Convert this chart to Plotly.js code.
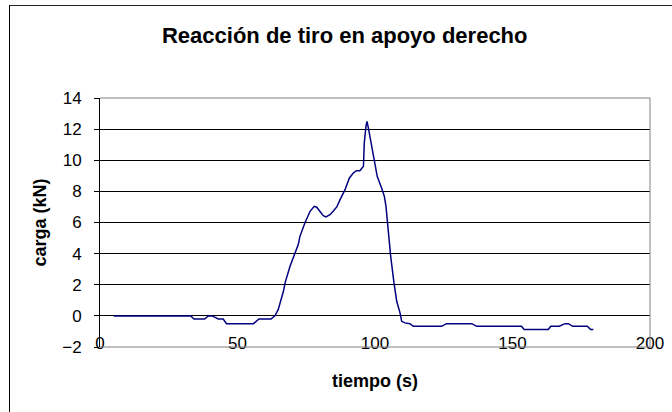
<!DOCTYPE html>
<html>
<head>
<meta charset="utf-8">
<script src="https://cdn.plot.ly/plotly-3.0.1.min.js"></script>
<style>
  body { margin: 0; background: #fff; }
  #chart { width: 672px; height: 412px; }
  /* outer chart frame (left and top edges visible in the crop) */
  #frame {
    position: absolute; left: 9px; top: 5px; width: 700px; height: 450px;
    border-left: 1px solid #000; border-top: 1.5px solid #222;
    pointer-events: none;
  }
</style>
</head>
<body>
<div id="chart"></div>
<div id="frame"></div>
<script>
// tiempo (s) and carga (kN)
const tiempo = [5, 33, 34.2, 38, 39.4, 40.8, 43, 44.8, 46, 55.8,
  57.8, 62.2, 63.6, 64.8, 66.7, 67.3, 69.1, 70.9, 72.1, 72.7,
  74.5, 76.4, 77.9, 78.8, 81.2, 82.2, 83.6, 84.8, 86.1, 87.3,
  89.1, 90.7, 92.1, 93.3, 94.5, 95.8, 96.1, 96.7, 97.1, 97.7,
  98.8, 100.4, 100.8, 102.4, 103.4, 104, 104.5, 105.7, 106.9, 107.9,
  109.1, 109.7, 110.9, 112.7, 113.9, 124.2, 126, 135.2, 137, 153.3,
  154.2, 163, 163.9, 167, 169.1, 170.3, 171.9, 177.2, 178.4, 179.4];

const carga = [0, 0, -0.2, -0.2, 0, 0, -0.2, -0.2, -0.5, -0.5,
  -0.2, -0.2, 0, 0.4, 1.58, 2.12, 3.19, 4.05, 4.58, 5.11,
  5.97, 6.72, 7.04, 6.98, 6.44, 6.36, 6.5, 6.72, 7.0, 7.47,
  8.11, 8.86, 9.18, 9.33, 9.33, 9.61, 11.1, 12.18, 12.5, 11.97,
  10.9, 9.4, 8.97, 8.22, 7.68, 7.04, 5.97, 3.83, 2.12, 0.94,
  0.19, -0.35, -0.45, -0.5, -0.67, -0.67, -0.5, -0.5, -0.67, -0.67,
  -0.88, -0.88, -0.67, -0.67, -0.5, -0.5, -0.67, -0.67, -0.88, -0.88];

const xTicks = [0, 50, 100, 150, 200];
const yTicks = [-2, 0, 2, 4, 6, 8, 10, 12, 14];

const font = "Arial, 'Liberation Sans', sans-serif";

const trace = {
  x: tiempo,
  y: carga,
  type: "scatter",
  mode: "lines",
  line: { color: "#000080", width: 1.5 },
  showlegend: false
};

const grayEdge = { color: "#808080", width: 1 };

const layout = {
  width: 672,
  height: 412,
  margin: { l: 100, r: 22, t: 98, b: 65 },
  paper_bgcolor: "#fff",
  plot_bgcolor: "#fff",
  font: { family: font, color: "#000", size: 17 },
  title: {
    text: "<b>Reacción de tiro en apoyo derecho</b>",
    font: { family: font, size: 22, color: "#000" },
    x: 0.513, xanchor: "center",
    y: 0.914, yanchor: "middle"
  },
  xaxis: {
    range: [0, 200],
    tickvals: xTicks,
    ticks: "",
    showgrid: false,
    zeroline: false,
    showline: false,
    tickfont: { size: 17 },
    ticklabelstandoff: -16,
    title: { text: "<b>tiempo (s)</b>", font: { size: 18 }, standoff: 22 }
  },
  // axis line with tick marks sitting at y = 0
  xaxis2: {
    overlaying: "x",
    anchor: "free",
    position: 0.125,
    range: [0, 200],
    tickvals: xTicks,
    ticks: "outside",
    ticklen: 5,
    tickcolor: "#000",
    showticklabels: false,
    showgrid: false,
    zeroline: false,
    showline: true,
    linecolor: "#000",
    linewidth: 1
  },
  yaxis: {
    range: [-2, 14],
    tickvals: yTicks,
    ticks: "outside",
    ticklen: 5,
    tickcolor: "#000",
    showline: true,
    linecolor: "#000",
    linewidth: 1,
    showgrid: true,
    gridcolor: "#000",
    gridwidth: 1,
    zeroline: false,
    tickfont: { size: 17 },
    ticklabelstandoff: 9,
    title: { text: "<b>carga (kN)</b>", font: { size: 18 }, standoff: 10 }
  },
  shapes: [
    { type: "line", xref: "paper", yref: "paper", x0: 0, x1: 1, y0: 1, y1: 1, line: grayEdge },
    { type: "line", xref: "paper", yref: "paper", x0: 1, x1: 1, y0: 0, y1: 1, line: grayEdge },
    { type: "line", xref: "paper", yref: "paper", x0: 0, x1: 1, y0: 0, y1: 0, line: grayEdge }
  ]
};

Plotly.newPlot("chart", [trace], layout, { displayModeBar: false, staticPlot: true });
</script>
</body>
</html>
